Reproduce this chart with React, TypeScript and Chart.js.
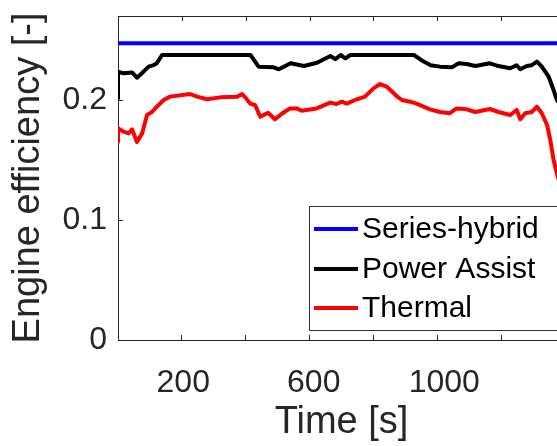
import React, { useEffect, useRef } from "react";
import { Chart, registerables } from "chart.js";

Chart.register(...registerables);

const seriesLabels = ["Series-hybrid", "Power Assist", "Thermal"];
const seriesColors = ["#0000FF", "#000000", "#FF0000"];

const blueTime = [0, 1370];
const blueEff = [0.2473, 0.2473];

const powerTime = [0, 0, 17, 43, 58, 78, 94, 109, 119, 135, 406, 431, 477, 493, 529, 570, 610, 651, 666, 682, 697, 712, 907, 937, 958, 987, 1023, 1044, 1069, 1095, 1140, 1166, 1202, 1222, 1233, 1253, 1268, 1284, 1299, 1320, 1335, 1345, 1370];
const powerEff = [0.2014, 0.2236, 0.2222, 0.223, 0.2186, 0.2236, 0.2278, 0.229, 0.2306, 0.2375, 0.2375, 0.2278, 0.2272, 0.2256, 0.2306, 0.2283, 0.231, 0.2367, 0.234, 0.2375, 0.2347, 0.2375, 0.2375, 0.232, 0.229, 0.2278, 0.2272, 0.2306, 0.23, 0.2283, 0.2306, 0.2283, 0.2264, 0.229, 0.2256, 0.2283, 0.229, 0.232, 0.2278, 0.2194, 0.2083, 0.2, 0.19];

const thermalTime = [0, 0, 17, 33, 43, 58, 74, 89, 104, 119, 140, 160, 221, 242, 273, 313, 365, 380, 390, 405, 420, 436, 460, 481, 501, 527, 547, 563, 609, 650, 670, 686, 701, 732, 757, 783, 803, 824, 854, 870, 895, 915, 956, 987, 1017, 1038, 1069, 1095, 1140, 1166, 1202, 1222, 1233, 1248, 1268, 1284, 1299, 1315, 1325, 1335, 1345, 1370];
const thermalEff = [0.165, 0.1764, 0.1736, 0.1722, 0.1756, 0.165, 0.1722, 0.1875, 0.19, 0.1944, 0.2, 0.2028, 0.205, 0.2028, 0.2006, 0.2022, 0.2028, 0.205, 0.2022, 0.197, 0.1958, 0.186, 0.1894, 0.184, 0.1883, 0.193, 0.193, 0.1911, 0.193, 0.1978, 0.1967, 0.1986, 0.197, 0.2006, 0.2028, 0.2097, 0.2133, 0.2111, 0.2033, 0.2, 0.1986, 0.197, 0.1922, 0.19, 0.189, 0.193, 0.1922, 0.19, 0.1925, 0.19, 0.1875, 0.1917, 0.184, 0.189, 0.19, 0.1944, 0.189, 0.1792, 0.1667, 0.15, 0.139, 0.115];

const xMin = 0;
const xMax = 1370;
const xStep = 200;
const xTickLabels = ["200", "600", "1000"];
const yMin = 0;
const yMax = 0.27;
const yStep = 0.1;

const FONT = "'Liberation Sans', Arial, Helvetica, sans-serif";
const AXIS_COLOR = "#262626";

const toPoints = (xs: number[], ys: number[]) => xs.map((x, i) => ({ x, y: ys[i] }));

const legendPlugin = {
  id: "insideLegend",
  afterDraw(chart: any) {
    const { ctx, chartArea: ca } = chart;
    const bx = ca.left + 191;
    const by = ca.bottom - 134;
    const bw = 252;
    const bh = 124;
    ctx.save();
    ctx.fillStyle = "#ffffff";
    ctx.fillRect(bx, by, bw, bh);
    ctx.strokeStyle = "#333333";
    ctx.lineWidth = 1;
    ctx.strokeRect(bx + 0.5, by + 0.5, bw, bh);
    const rows = [23, 63, 102];
    chart.data.datasets.forEach((ds: any, i: number) => {
      const cy = by + rows[i];
      ctx.strokeStyle = ds.borderColor;
      ctx.lineWidth = 4;
      ctx.beginPath();
      ctx.moveTo(bx + 5, cy);
      ctx.lineTo(bx + 49, cy);
      ctx.stroke();
      ctx.fillStyle = "#000000";
      ctx.font = `30px ${FONT}`;
      ctx.textBaseline = "middle";
      ctx.textAlign = "left";
      ctx.fillText(ds.label, bx + 53, cy + 1);
    });
    // x tick labels, placed with the x scale
    const sx = chart.scales.x;
    ctx.fillStyle = AXIS_COLOR;
    ctx.font = `32px ${FONT}`;
    ctx.textAlign = "center";
    ctx.textBaseline = "alphabetic";
    xTickLabels.forEach((lbl) => {
      const px = sx.getPixelForValue(Number(lbl));
      ctx.fillText(lbl, px, ca.bottom + 52);
    });
    ctx.restore();
  },
};

// top box edge with inward tick marks from the x scale's own ticks
const topAxisPlugin = {
  id: "topAxis",
  afterDatasetsDraw(chart: any) {
    const { ctx, chartArea: ca } = chart;
    const sx = chart.scales.x;
    ctx.save();
    ctx.strokeStyle = AXIS_COLOR;
    ctx.lineWidth = 1;
    ctx.beginPath();
    ctx.moveTo(ca.left, ca.top + 0.5);
    ctx.lineTo(ca.right, ca.top + 0.5);
    sx.ticks.forEach((t: any) => {
      const px = Math.round(sx.getPixelForValue(t.value)) + 0.5;
      ctx.moveTo(px, ca.top);
      ctx.lineTo(px, ca.top + 5);
    });
    ctx.stroke();
    ctx.restore();
  },
};

const fixBox = (size: number, horizontal: boolean) => (s: any) => {
  if (horizontal) s.height = size;
  else s.width = size;
  s.paddingLeft = 0;
  s.paddingRight = 0;
  s.paddingTop = 0;
  s.paddingBottom = 0;
};

export default function App() {
  const canvasRef = useRef<HTMLCanvasElement | null>(null);

  useEffect(() => {
    if (!canvasRef.current) return;
    const chart = new Chart(canvasRef.current, {
      type: "line",
      data: {
        datasets: [
          { label: seriesLabels[0], data: toPoints(blueTime, blueEff), borderColor: seriesColors[0] },
          { label: seriesLabels[1], data: toPoints(powerTime, powerEff), borderColor: seriesColors[1] },
          { label: seriesLabels[2], data: toPoints(thermalTime, thermalEff), borderColor: seriesColors[2] },
        ].map((d) => ({
          ...d,
          borderWidth: 4,
          pointRadius: 0,
          tension: 0,
          fill: false,
          borderJoinStyle: "round" as const,
          borderCapStyle: "round" as const,
        })),
      },
      options: {
        animation: false,
        responsive: false,
        layout: { padding: { top: 16, left: 0, right: 0, bottom: 0 } },
        plugins: { legend: { display: false }, tooltip: { enabled: false } },
        scales: {
          x: {
            type: "linear",
            position: "bottom",
            min: xMin,
            max: xMax,
            afterFit: fixBox(106, true),
            border: { display: true, color: AXIS_COLOR, width: 1 },
            grid: { display: true, drawOnChartArea: false, drawTicks: true, tickLength: -5, color: AXIS_COLOR },
            ticks: {
              display: false,
              stepSize: xStep,
              autoSkip: false,
              includeBounds: false,
            },
            title: {
              display: true,
              text: "Time [s]",
              color: AXIS_COLOR,
              font: { family: FONT, size: 38 },
              padding: { top: 0, bottom: 1 },
            },
          },
          y: {
            type: "linear",
            position: "left",
            min: yMin,
            max: yMax,
            afterFit: fixBox(118, false),
            border: { display: true, color: AXIS_COLOR, width: 1 },
            grid: { display: true, drawOnChartArea: false, drawTicks: true, tickLength: -5, color: AXIS_COLOR },
            ticks: {
              stepSize: yStep,
              includeBounds: false,
              padding: 16,
              color: AXIS_COLOR,
              font: { family: FONT, size: 32 },
              callback: (v: any) => String(Number(Number(v).toFixed(1))),
            },
            title: {
              display: true,
              text: "Engine efficiency [-]",
              color: AXIS_COLOR,
              font: { family: FONT, size: 38 },
              padding: { top: 6, bottom: 0 },
            },
          },
        },
      } as any,
      plugins: [topAxisPlugin, legendPlugin],
    });
    return () => chart.destroy();
  }, []);

  return (
    <div style={{ position: "absolute", left: 0, top: 0, width: 557, height: 446, overflow: "hidden", background: "#fff" }}>
      <canvas ref={canvasRef} width={565} height={446} style={{ display: "block", width: 565, height: 446 }} />
    </div>
  );
}
